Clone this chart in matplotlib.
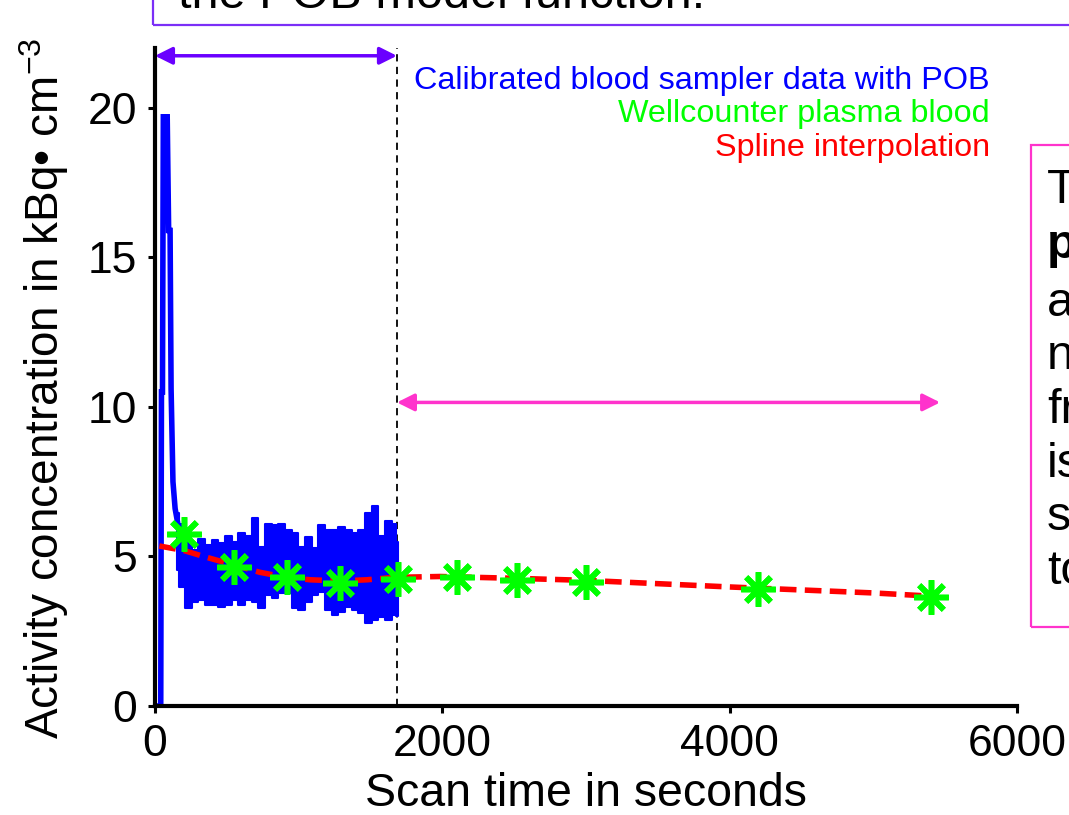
import matplotlib
matplotlib.use("Agg")
import matplotlib.pyplot as plt
from matplotlib.patches import Rectangle
import numpy as np

plt.rcParams['font.family'] = ['Liberation Sans', 'DejaVu Sans']
plt.rcParams['mathtext.fontset'] = 'custom'
plt.rcParams['mathtext.rm'] = 'Liberation Sans'
plt.rcParams['mathtext.it'] = 'Liberation Sans:italic'
plt.rcParams['mathtext.bf'] = 'Liberation Sans:bold'

# ---- data ----
# initial bolus spike of the blood sampler (s, kBq/cm3)
spike_t = [0, 40, 45, 52, 58, 85, 95, 105, 112, 125, 140, 155]
spike_v = [0, 0, 10.5, 10.5, 19.7, 19.7, 15.9, 15.9, 10.6, 7.5, 6.6, 6.2]

# envelope of the noisy blood sampler trace (upper / lower)
band_t = [150, 186, 232, 278, 325, 371, 418, 464, 510, 557, 603, 650, 696,
          742, 788, 835, 881, 927, 974, 1020, 1066, 1113, 1159, 1206, 1252,
          1299, 1345, 1391, 1438, 1484, 1531, 1577, 1624, 1670, 1690]
band_hi = [6.44, 6.1, 5.5, 5.2, 5.6, 5.38, 5.54, 5.44, 5.7, 5.5, 5.77, 5.7,
           6.27, 5.3, 6.1, 6.05, 6.1, 5.9, 5.77, 5.3, 5.66, 5.27, 6.05, 5.9,
           5.88, 6.0, 5.9, 5.77, 5.88, 6.44, 6.7, 5.7, 6.2, 6.1, 5.5]
band_lo = [4.55, 3.98, 3.27, 3.48, 3.54, 3.37, 3.37, 3.32, 3.37, 3.54, 3.37,
           3.54, 3.48, 3.27, 3.7, 3.6, 3.77, 3.77, 3.27, 3.2, 3.48, 3.7, 3.82,
           3.2, 3.04, 3.15, 3.32, 3.2, 3.1, 2.77, 2.87, 2.98, 2.87, 3.04, 3.0]

# wellcounter plasma samples
well_t = [200, 550, 920, 1290, 1690, 2100, 2520, 3000, 4200, 5400]
well_v = [5.75, 4.65, 4.3, 4.1, 4.25, 4.3, 4.22, 4.15, 3.92, 3.65]

# spline interpolation
spl_t = [30, 200, 360, 545, 730, 915, 1080, 1290, 1475, 1660, 1985, 2500,
         3000, 4000, 5000, 5450]
spl_v = [5.35, 5.2, 4.97, 4.72, 4.47, 4.3, 4.22, 4.18, 4.22, 4.3, 4.33,
         4.27, 4.2, 3.98, 3.78, 3.66]

x_ticks = [0, 2000, 4000, 6000]
y_ticks = [0, 5, 10, 15, 20]
t_split = 1684
t_end = 5465

W, H = 1069, 815
fig = plt.figure(figsize=(W / 100, H / 100), dpi=100)
ax = fig.add_axes([155 / W, 1 - 706 / H, (1017 - 155) / W, (706 - 48) / H])

blue = '#0000FF'
green = '#00FF00'
red = '#FF0000'

ax.plot(spike_t, spike_v, color=blue, lw=4, solid_joinstyle='miter', zorder=2)
ax.fill_between(band_t, band_lo, band_hi, step='mid', color=blue, lw=1.5,
                edgecolor=blue, zorder=2)

ax.plot(spl_t, spl_v, color=red, lw=4, ls=(0, (3, 1.5)), zorder=3)
ax.plot(well_t, well_v, ls='none', marker=(8, 2, 0), ms=25, mew=4,
        mec=green, color=green, zorder=4)

ax.plot([t_split, t_split], [0, 22], color='black', lw=1.3,
        ls=(0, (4, 3)), zorder=1, clip_on=False)

ax.annotate('', xy=(t_split, 21.74), xytext=(0, 21.74),
            arrowprops=dict(arrowstyle='<|-|>', color='#6A00FF', lw=2.5,
                            mutation_scale=26, shrinkA=0, shrinkB=0),
            annotation_clip=False)
ax.annotate('', xy=(t_end, 10.15), xytext=(t_split, 10.15),
            arrowprops=dict(arrowstyle='<|-|>', color='#FF33CC', lw=2.5,
                            mutation_scale=26, shrinkA=0, shrinkB=0),
            annotation_clip=False)

ax.set_xlim(0, 6000)
ax.set_ylim(0, 22)
ax.set_xticks(x_ticks)
ax.set_yticks(y_ticks)
ax.spines['top'].set_visible(False)
ax.spines['right'].set_visible(False)
for s in ('left', 'bottom'):
    ax.spines[s].set_linewidth(3)
ax.tick_params(direction='out', length=5, width=2.2, labelsize=32, pad=8)

ax.set_xlabel('Scan time in seconds', fontsize=33.5)
ax.xaxis.set_label_coords(0.5, -0.1)
ax.set_ylabel('Activity concentration in kBq\u2022 cm$^{-3}$', fontsize=33)
ax.yaxis.set_label_coords(-0.097, 0.483)

# legend-like texts
ax.text(990 / W, 1 - 81 / H, 'Calibrated blood sampler data with POB',
        transform=fig.transFigure, ha='right', va='center', fontsize=23.3,
        color=blue)
ax.text(990 / W, 1 - 114 / H, 'Wellcounter plasma blood',
        transform=fig.transFigure, ha='right', va='center', fontsize=23.3,
        color=green)
ax.text(990 / W, 1 - 148 / H, 'Spline interpolation',
        transform=fig.transFigure, ha='right', va='center', fontsize=23.3,
        color=red)

# slide callout boxes (cropped)
fig.add_artist(Rectangle((153 / W, 1 - 25 / H), 1.0, 0.2,
                         transform=fig.transFigure, fill=False,
                         ec='#7B2FF7', lw=1.6))
fig.text(178 / W, 1 - 8 / H, 'the POB model function.', fontsize=35,
         va='baseline', ha='left')

fig.add_artist(Rectangle((1031 / W, 1 - 627 / H), 0.2, (627 - 145) / H,
                         transform=fig.transFigure, fill=False,
                         ec='#FF33CC', lw=1.6))
side_lines = ['T', 'p', 'a', 'n', 'fr', 'is', 's', 'to']
side_base = [203, 258, 316, 369, 423, 477, 530, 584]
for s, b in zip(side_lines, side_base):
    fig.text(1047 / W, 1 - b / H, s, fontsize=35, va='baseline', ha='left',
             fontweight='bold' if s == 'p' else 'normal')

fig.savefig('out.png', dpi=100)
